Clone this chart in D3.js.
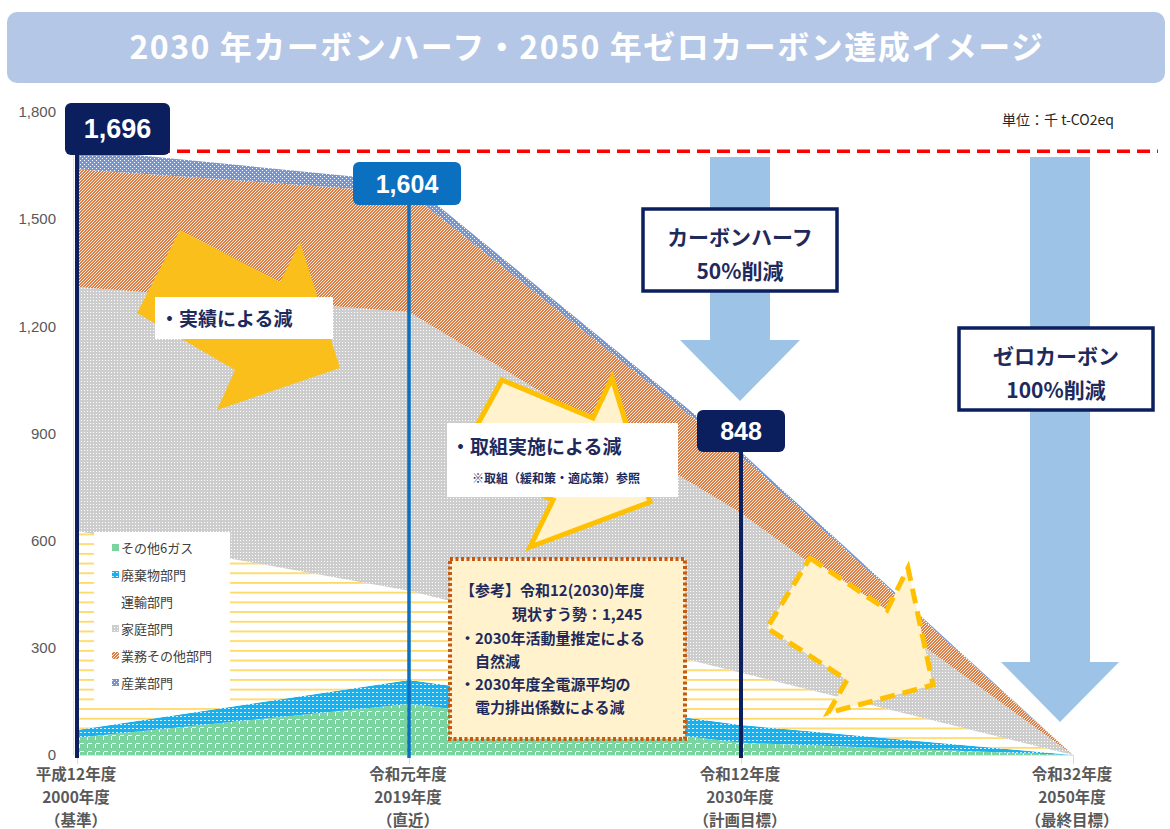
<!DOCTYPE html>
<html>
<head>
<meta charset="utf-8">
<script src="https://cdn.jsdelivr.net/npm/d3@7"></script>
<style>
  body { margin: 0; background: #fff; }
  svg { display: block; font-family: "Noto Sans CJK JP", "Noto Sans", sans-serif; }
</style>
</head>
<body>
<div id="chart"></div>
<script>
// データ（単位：千 t-CO2eq）
const years = ["2000", "2019", "2030", "2050"];
const xLabels = [
  ["平成12年度", "2000年度", "（基準）"],
  ["令和元年度", "2019年度", "（直近）"],
  ["令和12年度", "2030年度", "（計画目標）"],
  ["令和32年度", "2050年度", "（最終目標）"]
];
const sonota = [48, 143, 34, 0];   // その他6ガス
const haiki  = [22, 67, 50, 0];    // 廃棄物部門
const unyu   = [557, 250, 146, 0]; // 運輸部門
const katei  = [683, 780, 447, 0]; // 家庭部門
const gyomu  = [330, 334, 160, 0]; // 業務その他部門
const sangyo = [56, 30, 11, 0];    // 産業部門
const totals = ["1,696", "1,604", "848"];
const yTicks = [0, 300, 600, 900, 1200, 1500, 1800];
const seriesNames = ["その他6ガス", "廃棄物部門", "運輸部門", "家庭部門", "業務その他部門", "産業部門"];

const W = 1170, H = 829;
const margin = { top: 112, right: 97, bottom: 74, left: 77 };

const svg = d3.select("#chart").append("svg")
  .attr("width", W).attr("height", H);

const defs = svg.append("defs");

// 模様（パターン）
function pattern(id, w, h, bg, dots) {
  const p = defs.append("pattern").attr("id", id)
    .attr("patternUnits", "userSpaceOnUse")
    .attr("width", w).attr("height", h);
  p.append("rect").attr("width", w).attr("height", h).attr("fill", bg);
  dots.forEach(d => {
    p.append("rect").attr("x", d[0]).attr("y", d[1])
      .attr("width", d[2]).attr("height", d[3])
      .attr("fill", d[4] || "#fff").attr("opacity", d[5] || 1);
  });
}
pattern("p-sonota", 8, 8, "#7ad4a0", [[0, 7, 4, 1], [7, 0, 1, 4]]);
pattern("p-haiki", 4, 4, "#19b0ee", [[0, 0, 2, 1, "#fff", 0.8]]);
pattern("p-unyu", 4, 9.7, "#fff", [[0, 0, 4, 1.8, "#ffd966"]]);
pattern("p-katei", 3, 3, "#cdcdcd", [[0, 0, 1, 1]]);
pattern("p-gyomu", 3, 3, "#d97f45", [[0, 2, 1, 1, "#fff", 0.85], [1, 1, 1, 1, "#fff", 0.85], [2, 0, 1, 1, "#fff", 0.85]]);
pattern("p-sangyo", 4, 4, "#7596d6", [[0, 0, 1, 1], [2, 2, 1, 1]]);
const fills = ["url(#p-sonota)", "url(#p-haiki)", "url(#p-unyu)", "url(#p-katei)", "url(#p-gyomu)", "url(#p-sangyo)"];

// タイトル
svg.append("rect")
  .attr("x", 7).attr("y", 12).attr("width", 1158).attr("height", 71)
  .attr("rx", 10).attr("fill", "#b4c7e7");
svg.append("text")
  .attr("x", 587).attr("y", 59)
  .attr("text-anchor", "middle")
  .attr("font-size", 32).attr("font-weight", "bold").attr("fill", "#fff")
  .attr("letter-spacing", 1.5)
  .text("2030 年カーボンハーフ・2050 年ゼロカーボン達成イメージ");

// スケール
const x = d3.scalePoint().domain(years).range([margin.left, W - margin.right]);
const y = d3.scaleLinear().domain([0, 1800]).range([H - margin.bottom, margin.top]);

const rows = years.map((yr, i) => ({
  year: yr,
  sonota: sonota[i], haiki: haiki[i], unyu: unyu[i],
  katei: katei[i], gyomu: gyomu[i], sangyo: sangyo[i]
}));
const keys = ["sonota", "haiki", "unyu", "katei", "gyomu", "sangyo"];
const stacked = d3.stack().keys(keys)(rows);

const area = d3.area()
  .x(d => x(d.data.year))
  .y0(d => y(d[0]))
  .y1(d => y(d[1]));

// 軸
const yAxis = svg.append("g")
  .attr("transform", "translate(73,0)")
  .call(d3.axisLeft(y).tickValues(yTicks).tickSize(0).tickPadding(17).tickFormat(d3.format(",")));
yAxis.select(".domain").attr("stroke", "#e3e3e3");
yAxis.selectAll("text").attr("font-size", 15).attr("fill", "#595959")
  .attr("font-family", "Liberation Sans, Arial, sans-serif");

const xAxis = svg.append("g")
  .attr("transform", `translate(0,${y(0)})`)
  .call(d3.axisBottom(x).tickSize(9).tickFormat(""));
xAxis.select(".domain").attr("stroke", "#e3e3e3");
xAxis.selectAll(".tick line").attr("stroke", "#d9d9d9");

xLabels.forEach((lines, i) => {
  lines.forEach((t, j) => {
    svg.append("text")
      .attr("x", x(years[i]) - 1).attr("y", 780 + j * 23)
      .attr("text-anchor", "middle")
      .attr("font-size", 15.5).attr("font-weight", "bold").attr("fill", "#595959")
      .text(t);
  });
});

// 積み上げ面
svg.append("g").selectAll("path")
  .data(stacked)
  .join("path")
  .attr("d", area)
  .attr("fill", (d, i) => fills[i]);

// 基準線
svg.append("line")
  .attr("x1", x("2000")).attr("x2", 1158)
  .attr("y1", y(1696) + 2).attr("y2", y(1696) + 2)
  .attr("stroke", "#ff0000").attr("stroke-width", 3.5)
  .attr("stroke-dasharray", "13,7");

// 大きな矢印（水色）
function downArrow(cx, top, headY, tipY, shaftW, headW) {
  const pts = [
    [cx - shaftW / 2, top], [cx + shaftW / 2, top], [cx + shaftW / 2, headY],
    [cx + headW / 2, headY], [cx, tipY], [cx - headW / 2, headY], [cx - shaftW / 2, headY]
  ];
  svg.append("polygon").attr("points", pts.map(p => p.join(",")).join(" "))
    .attr("fill", "#9dc3e6");
}
downArrow(740, 157, 340, 401, 60, 120);
downArrow(1060, 157, 662, 722, 60, 118);

// 黄色い矢印
function poly(pts, fill, stroke, dash) {
  svg.append("polygon").attr("points", pts.map(p => p.join(",")).join(" "))
    .attr("fill", fill)
    .attr("stroke", stroke || "none")
    .attr("stroke-width", stroke ? 5 : 0)
    .attr("stroke-linejoin", "miter")
    .attr("stroke-dasharray", dash || null);
}
poly([[180, 230], [280, 282], [300, 242], [340, 368], [217, 410], [235, 370], [137, 313]], "#fbbf1c");
poly([[502, 380], [593, 418], [612, 378], [650, 502], [530, 547], [553, 500], [458, 460]], "#fff2cc", "#ffc000");
poly([[810, 558], [887, 610], [908, 568], [933, 685], [828, 713], [847, 680], [767, 628]], "#fff2cc", "#ffc000", "15,8");

// 縦線と数値ラベル
const markers = [
  { yr: "2000", top: 150, color: "#0b1f5f", w: 4, box: [65, 103, 105, 52], fs: 27 },
  { yr: "2019", top: 205, color: "#0b70c0", w: 3.5, box: [353, 162, 108, 43], fs: 25 },
  { yr: "2030", top: 452, color: "#0b1f5f", w: 4, box: [697, 410, 88, 42], fs: 25 }
];
markers.forEach((m, i) => {
  svg.append("line")
    .attr("x1", x(m.yr)).attr("x2", x(m.yr))
    .attr("y1", m.top).attr("y2", y(0) + 3)
    .attr("stroke", m.color).attr("stroke-width", m.w);
  svg.append("rect")
    .attr("x", m.box[0]).attr("y", m.box[1]).attr("width", m.box[2]).attr("height", m.box[3])
    .attr("rx", 6).attr("fill", m.color);
  svg.append("text")
    .attr("x", m.box[0] + m.box[2] / 2).attr("y", m.box[1] + m.box[3] / 2 + 9)
    .attr("text-anchor", "middle")
    .attr("font-size", m.fs).attr("font-weight", "bold").attr("fill", "#fff")
    .attr("font-family", "'Liberation Sans Narrow', 'Liberation Sans', Arial, sans-serif")
    .text(totals[i]);
});

// 白いラベル
function label(bx, by, bw, bh, lines) {
  svg.append("rect").attr("x", bx).attr("y", by).attr("width", bw).attr("height", bh).attr("fill", "#fff");
  lines.forEach(l => {
    svg.append("text").attr("x", l.x).attr("y", l.y)
      .attr("font-size", l.fs).attr("font-weight", "bold").attr("fill", "#1f2a5c")
      .text(l.t);
  });
}
label(155, 297, 178, 42, [{ t: "・実績による減", x: 160, y: 326, fs: 19 }]);
label(447, 423, 231, 74, [
  { t: "・取組実施による減", x: 451, y: 454, fs: 19 },
  { t: "※取組（緩和策・適応策）参照", x: 472, y: 483, fs: 12 }
]);

// 削減目標の枠
function targetBox(bx, by, bw, bh, l1, l2) {
  svg.append("rect").attr("x", bx).attr("y", by).attr("width", bw).attr("height", bh)
    .attr("fill", "#fff").attr("stroke", "#0b1f5f").attr("stroke-width", 3.5);
  [l1, l2].forEach((t, j) => {
    svg.append("text").attr("x", bx + bw / 2).attr("y", by + 36 + j * 34)
      .attr("text-anchor", "middle")
      .attr("font-size", 21).attr("font-weight", "bold").attr("fill", "#1f2a5c")
      .text(t);
  });
}
targetBox(643, 209, 194, 82, "カーボンハーフ", "50%削減");
targetBox(959, 328, 194, 82, "ゼロカーボン", "100%削減");

// 単位
svg.append("text").attr("x", 1002).attr("y", 125)
  .attr("font-size", 14).attr("fill", "#262626")
  .text("単位：千 t-CO2eq");

// 凡例
svg.append("rect").attr("x", 94).attr("y", 532).attr("width", 136).attr("height", 170).attr("fill", "#fff");
seriesNames.forEach((name, i) => {
  const ly = 548 + i * 27;
  if (i !== 2) {
    svg.append("rect").attr("x", 112).attr("y", ly - 4).attr("width", 7).attr("height", 7)
      .attr("fill", fills[i]);
  }
  svg.append("text").attr("x", 121).attr("y", ly + 5)
    .attr("font-size", 13).attr("fill", "#404040")
    .text(name);
});

// 参考枠
svg.append("rect").attr("x", 450).attr("y", 559).attr("width", 235).attr("height", 180)
  .attr("fill", "#fff2cc").attr("stroke", "#c55a11").attr("stroke-width", 4)
  .attr("stroke-dasharray", "3,2.5");
const refLines = [
  { t: "【参考】令和12(2030)年度", x: 460, y: 596 },
  { t: "現状すう勢：1,245", x: 512, y: 620 },
  { t: "・2030年活動量推定による", x: 460, y: 644 },
  { t: "自然減", x: 475, y: 667 },
  { t: "・2030年度全電源平均の", x: 460, y: 690 },
  { t: "電力排出係数による減", x: 475, y: 713 }
];
refLines.forEach(l => {
  svg.append("text").attr("x", l.x).attr("y", l.y)
    .attr("font-size", 15).attr("font-weight", "bold").attr("fill", "#1f2a5c")
    .text(l.t);
});
</script>
</body>
</html>
